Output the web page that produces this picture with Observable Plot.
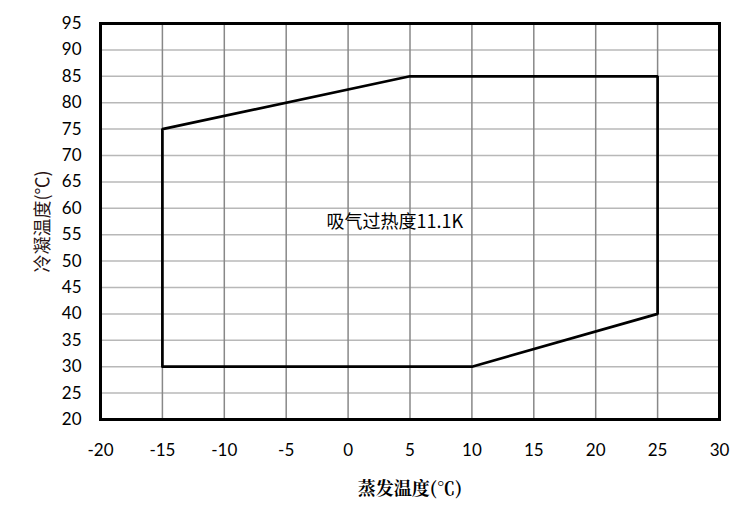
<!DOCTYPE html>
<html>
<head>
<meta charset="utf-8">
<script src="https://cdn.jsdelivr.net/npm/d3@7"></script>
<script src="https://cdn.jsdelivr.net/npm/@observablehq/plot@0.6"></script>
<style>
  html, body { margin: 0; padding: 0; background: #fff; }
</style>
</head>
<body>
<div id="chart"></div>
<script>
// Data
const xTicks = [-20, -15, -10, -5, 0, 5, 10, 15, 20, 25, 30];
const yTicks = [20, 25, 30, 35, 40, 45, 50, 55, 60, 65, 70, 75, 80, 85, 90, 95];
const envelopeEvap = [-15, -15, 5, 25, 25, 10, -15];
const envelopeCond = [30, 75, 85, 85, 40, 30, 30];
const annotation = "吸气过热度11.1K";
const annotationX = -1.75;
const annotationY = 57.3;
const xTitle = "蒸发温度(℃)";
const yTitle = "冷凝温度(℃)";

const envelope = envelopeEvap.map((x, i) => ({x, y: envelopeCond[i]}));

const chart = Plot.plot({
  width: 746,
  height: 509,
  marginLeft: 100,
  marginRight: 27,
  marginTop: 23,
  marginBottom: 90,
  style: {fontFamily: "Lato, 'Noto Sans', sans-serif", fontSize: "17px", color: "#000", background: "#fff"},
  x: {domain: [-20, 30], ticks: xTicks, tickSize: 0, tickPadding: 24, label: null, tickFormat: d => String(d)},
  y: {domain: [20, 95], ticks: yTicks, tickSize: 0, tickPadding: 19, label: null, tickFormat: d => String(d)},
  marks: [
    Plot.ruleY(yTicks, {stroke: "#b8b8b8", strokeWidth: 1.5}),
    Plot.ruleX(xTicks, {stroke: "#888", strokeWidth: 1.5}),
    Plot.line(envelope, {x: "x", y: "y", stroke: "#000", strokeWidth: 2.7, strokeLinejoin: "miter"}),
    Plot.text([annotation], {x: () => annotationX, y: () => annotationY, textAnchor: "start", fontSize: 18, fontFamily: "'Noto Sans CJK SC', sans-serif", fill: "#000"}),
    Plot.frame({stroke: "#000", strokeWidth: 3}),
    Plot.text([xTitle], {frameAnchor: "bottom", textAnchor: "middle", lineAnchor: "middle", dy: 70, fontSize: 18, fontWeight: "bold", fontFamily: "'Noto Serif CJK SC', 'Noto Sans CJK SC', serif", fill: "#000"}),
    Plot.text([yTitle], {frameAnchor: "left", textAnchor: "middle", lineAnchor: "middle", dx: -57, rotate: -90, fontSize: 18, fontFamily: "'Noto Sans CJK SC', sans-serif", fill: "#2a1414"})
  ]
});
document.getElementById("chart").appendChild(chart);
</script>
</body>
</html>
